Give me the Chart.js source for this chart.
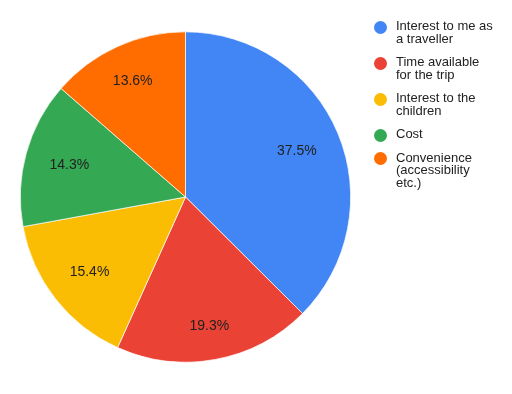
<!DOCTYPE html>
<html>
<head>
<meta charset="utf-8">
<script src="https://cdn.jsdelivr.net/npm/chart.js@4/dist/chart.umd.min.js"></script>
<style>
  html, body { margin: 0; padding: 0; background: #fff; }
  #wrap { position: relative; width: 512px; height: 394px; }
  #pie { position: absolute; left: 0; top: 0; }
  #legend {
    position: absolute; left: 374px; top: 20px;
    font-family: "Liberation Sans", Arial, sans-serif; font-size: 13px;
    line-height: 12.5px; color: #222;
  }
  .item { position: relative; padding-left: 22px; margin-bottom: 11px; }
  .dot { position: absolute; left: 0; top: 6.5px; width: 13px; height: 13px; border-radius: 50%; margin-top: -6px; }
</style>
</head>
<body>
<div id="wrap">
  <canvas id="pie" width="512" height="394"></canvas>
  <div id="legend"></div>
</div>
<script>
// ---------------------------- Data ---------------------------- //
const categories = [
    ["Interest to me as", "a traveller"],
    ["Time available", "for the trip"],
    ["Interest to the", "children"],
    ["Cost"],
    ["Convenience", "(accessibility", "etc.)"]
];
const shares = [37.5, 19.3, 15.4, 14.3, 13.6];
const colors = ['#4285F4', '#EA4335', '#FBBC04', '#34A853', '#FF6D01'];

// ---------------------------- Legend (html) ---------------------------- //
const legend = document.getElementById('legend');
categories.forEach((lines, i) => {
    const item = document.createElement('div');
    item.className = 'item';
    const dot = document.createElement('span');
    dot.className = 'dot';
    dot.style.background = colors[i];
    item.appendChild(dot);
    lines.forEach((t, j) => {
        if (j > 0) item.appendChild(document.createElement('br'));
        item.appendChild(document.createTextNode(t));
    });
    legend.appendChild(item);
});

// percent labels inside the slices: outer edge of the text box sits at ~0.855 R
const sliceLabels = {
    id: 'sliceLabels',
    afterDatasetsDraw(chart) {
        const ctx = chart.ctx;
        const meta = chart.getDatasetMeta(0);
        ctx.save();
        ctx.font = '14px "Liberation Sans", Arial, sans-serif';
        ctx.fillStyle = '#222';
        ctx.textAlign = 'center';
        ctx.textBaseline = 'middle';
        meta.data.forEach((arc, i) => {
            const txt = shares[i].toFixed(1) + '%';
            const w = ctx.measureText(txt).width;
            const mid = (arc.startAngle + arc.endAngle) / 2;
            const c = Math.cos(mid), s = Math.sin(mid);
            const r = arc.outerRadius * 0.855 - (Math.abs(c) * w / 2 + Math.abs(s) * 6);
            ctx.fillText(txt, arc.x + c * r, arc.y + s * r);
        });
        ctx.restore();
    }
};

// ---------------------------- Chart ---------------------------- //
const ctx = document.getElementById('pie').getContext('2d');
const pieChart = new Chart(ctx, {
    type: 'pie',
    data: {
        labels: categories.map(l => l.join(' ')),
        datasets: [{
            data: shares,
            backgroundColor: colors,
            borderColor: '#fff',
            borderWidth: 0.7
        }]
    },
    options: {
        responsive: false,
        animation: false,
        layout: { padding: { left: 20, right: 161, top: 31.5, bottom: 31.5 } },
        plugins: {
            legend: { display: false },
            tooltip: { enabled: false }
        }
    },
    plugins: [sliceLabels]
});
</script>
</body>
</html>
